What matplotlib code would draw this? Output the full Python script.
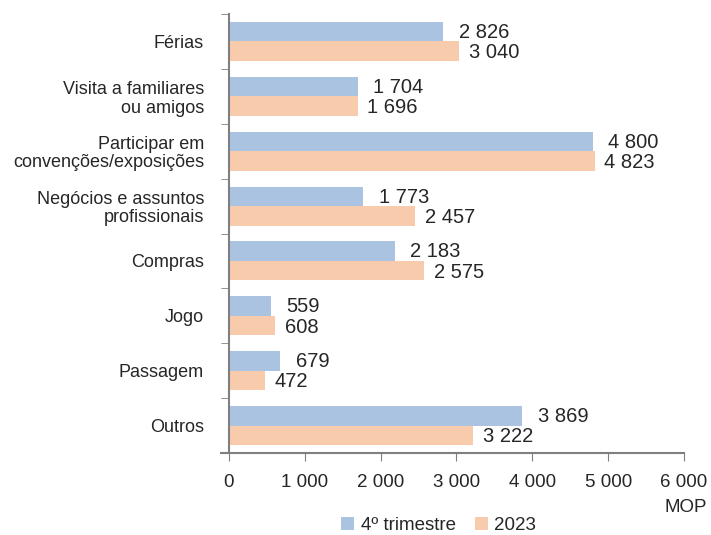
import matplotlib.pyplot as plt
import numpy as np

# categories, top to bottom
categories = ['Férias', 'Visita a familiares\nou amigos', 'Participar em\nconvenções/exposições',
              'Negócios e assuntos\nprofissionais', 'Compras', 'Jogo', 'Passagem', 'Outros']
q4 = [2826, 1704, 4800, 1773, 2183, 559, 679, 3869]
y2023 = [3040, 1696, 4823, 2457, 2575, 608, 472, 3222]
series_names = ['4º trimestre', '2023']
xticks = [0, 1000, 2000, 3000, 4000, 5000, 6000]

blue = '#A9C3E1'
orange = '#F8CBAD'
grey = '#7F7F7F'
text_col = '#262626'

def fmt(v):
    return f'{v:,}'.replace(',', ' ')

plt.rcParams['font.family'] = ['Liberation Sans', 'DejaVu Sans']
plt.rcParams['font.size'] = 13
plt.rcParams['text.color'] = text_col

fig = plt.figure(figsize=(7.11, 5.35), dpi=100)
ax = fig.add_axes([0.322, 0.153, 0.640, 0.821])

n = len(categories)
pos = np.arange(n)
h = 0.355
b1 = ax.barh(pos - h / 2, q4, height=h, color=blue, label=series_names[0])
b2 = ax.barh(pos + h / 2, y2023, height=h, color=orange, label=series_names[1])

for p, v in zip(pos, q4):
    ax.annotate(fmt(v), (v, p - h / 2), xytext=(11, -0.5), textcoords='offset points',
                va='center', ha='left', fontsize=14.5, color=text_col)
for p, v in zip(pos, y2023):
    ax.annotate(fmt(v), (v, p + h / 2), xytext=(7, -1), textcoords='offset points',
                va='center', ha='left', fontsize=14.5, color=text_col)

ax.set_ylim(n - 0.5, -0.5)
ax.set_xlim(0, 6000)
ax.set_yticks(pos)
ax.set_yticklabels(categories, linespacing=1.1, color=text_col)
ax.set_yticks(np.arange(n + 1) - 0.5, minor=True)
ax.tick_params(axis='y', which='major', length=0, pad=18)
ax.tick_params(axis='y', which='minor', length=6, color=grey, direction='out')
ax.set_xticks(xticks)
ax.set_xticklabels([fmt(x) for x in xticks], fontsize=13.5, color=text_col)
ax.tick_params(axis='x', length=6, color=grey, pad=9)

for s in ['top', 'right']:
    ax.spines[s].set_visible(False)
for s in ['left', 'bottom']:
    ax.spines[s].set_color(grey)
    ax.spines[s].set_linewidth(1.5)
ax.spines['bottom'].set_bounds(-100, 6000)

fig.text(0.995, 0.035, 'MOP', ha='right', va='bottom', fontsize=13.5)
fig.legend(handles=[b1, b2], loc='lower center', bbox_to_anchor=(0.617, -0.03), ncol=2,
           frameon=False, handlelength=0.7, handleheight=0.7, handletextpad=0.35,
           columnspacing=1.0, fontsize=13.5)

fig.savefig('out.png', dpi=100)
